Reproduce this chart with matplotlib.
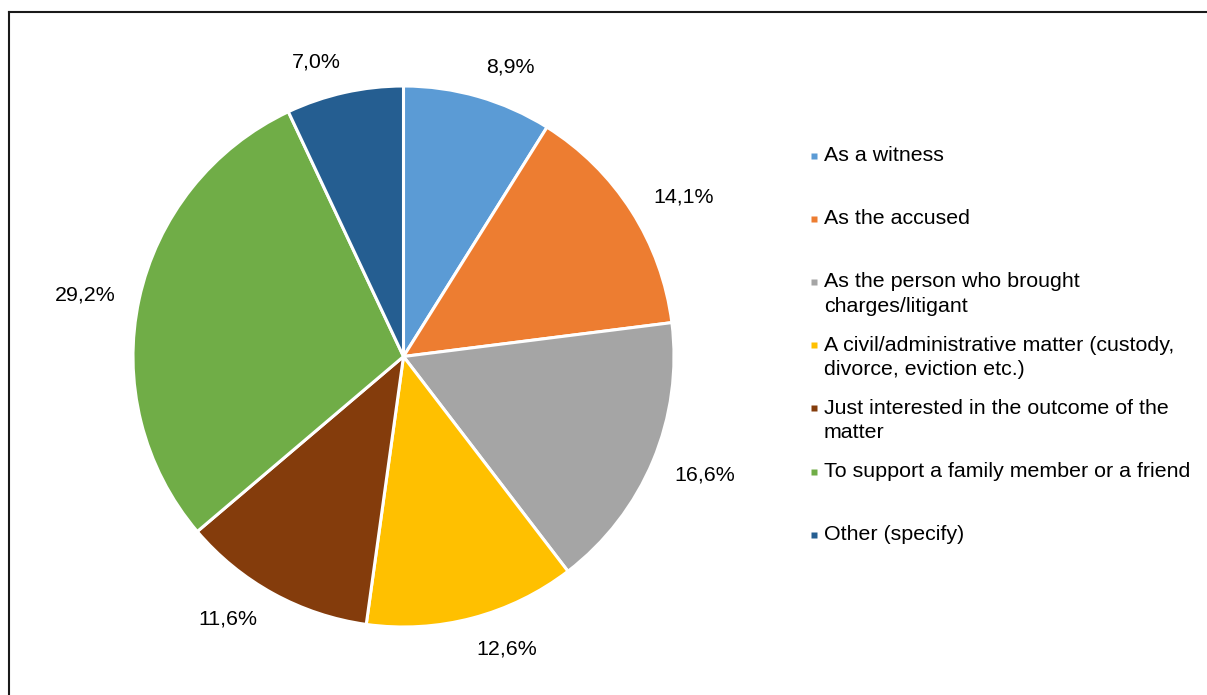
import numpy as np
import matplotlib
matplotlib.use('Agg')
import matplotlib.pyplot as plt
from matplotlib.lines import Line2D

plt.rcParams['font.family'] = ['Liberation Sans', 'DejaVu Sans']

# Chart data
categories = [
    'As a witness',
    'As the accused',
    'As the person who brought\ncharges/litigant',
    'A civil/administrative matter (custody,\ndivorce, eviction etc.)',
    'Just interested in the outcome of the\nmatter',
    'To support a family member or a friend',
    'Other (specify)',
]
shares = [8.9, 14.1, 16.6, 12.6, 11.6, 29.2, 7.0]
colors = ['#5B9BD5', '#ED7D31', '#A5A5A5', '#FFC000', '#843C0C', '#70AD47', '#255E91']
# small angular nudges (degrees) for the value labels
label_shift = [-4.2, -2.9, 1.3, 4.7, -4.9, 1.3, 3.9]

W, H = 1207, 695
fig = plt.figure(figsize=(W / 100, H / 100), dpi=100)
# axes in pixel units, y measured upwards
ax = fig.add_axes([0, 0, 1, 1])

cx, cy, R = 403.5, H - 356.5, 270.5
wedges, _ = ax.pie(shares, colors=colors, startangle=90, counterclock=False,
                   center=(cx, cy), radius=R,
                   wedgeprops=dict(edgecolor='white', linewidth=2.2))
ax.set_xlim(0, W)
ax.set_ylim(0, H)
ax.set_aspect('equal')
ax.axis('off')

fs = 15.4

# value labels just outside each slice
start = 90.0
for v, sh in zip(shares, label_shift):
    mid = np.radians(start - v * 3.6 / 2 + sh)
    start -= v * 3.6
    txt = f'{v:.1f}'.replace('.', ',') + '%'
    hw = 6.1 * len(txt)
    hh = 7.7
    dist = R + 22 + hw * abs(np.cos(mid)) + hh * abs(np.sin(mid))
    ax.text(cx + dist * np.cos(mid), cy + dist * np.sin(mid), txt,
            fontsize=fs, ha='center', va='center', color='#000000')

# legend, evenly spaced entries
lx, ly0, step, lstep = 824, 155.5, 63.2, 24.2
for i, (lab, c) in enumerate(zip(categories, colors)):
    y = ly0 + i * step
    ax.add_line(Line2D([813.5], [H - y], marker='s', markersize=4.8,
                       markerfacecolor=c, markeredgecolor='none', linestyle='none'))
    for j, line in enumerate(lab.split('\n')):
        ax.text(lx, H - (y + j * lstep), line, fontsize=fs,
                ha='left', va='center', color='#000000')

# chart frame (only left and top edges fall inside the image)
fig.add_artist(Line2D([8.5 / W, 8.5 / W], [0, 1 - 11.5 / H], transform=fig.transFigure,
                      color='#1a1a1a', linewidth=1.5))
fig.add_artist(Line2D([8.5 / W, 1], [1 - 11.5 / H, 1 - 11.5 / H], transform=fig.transFigure,
                      color='#1a1a1a', linewidth=1.5))

fig.savefig('out.png', dpi=100, facecolor='white')
